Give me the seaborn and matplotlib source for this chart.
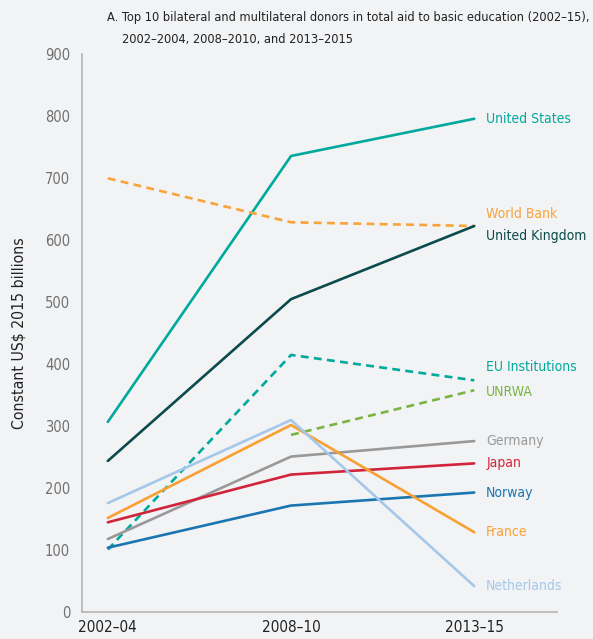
import matplotlib
matplotlib.use('Agg')
import matplotlib.pyplot as plt
import numpy as np
import pandas as pd
import seaborn as sns

periods = ['2002–04', '2008–10', '2013–15']

donors = ['United States', 'World Bank', 'United Kingdom', 'EU Institutions', 'UNRWA',
          'Germany', 'Japan', 'Norway', 'France', 'Netherlands']

united_states = [307, 736, 796]
world_bank = [700, 629, 623]
united_kingdom = [244, 505, 623]
eu_institutions = [101, 415, 374]
unrwa = [np.nan, 286, 358]
germany = [118, 251, 276]
japan = [145, 222, 240]
norway = [104, 172, 193]
france = [152, 302, 129]
netherlands = [176, 310, 42]

colors = {
    'United States': '#00a99d',
    'World Bank': '#f9a33b',
    'United Kingdom': '#0b4b4b',
    'EU Institutions': '#00a99d',
    'UNRWA': '#7ab441',
    'Germany': '#999999',
    'Japan': '#d1243a',
    'Norway': '#1b75b0',
    'France': '#f9a033',
    'Netherlands': '#a5c8ea',
}
dashed = {'World Bank', 'EU Institutions', 'UNRWA'}
# label nudges so names don't collide (data units)
nudge = {'World Bank': 20, 'United Kingdom': -16, 'EU Institutions': 22, 'UNRWA': -2}

values = [united_states, world_bank, united_kingdom, eu_institutions, unrwa,
          germany, japan, norway, france, netherlands]
df = pd.DataFrame([
    {'donor': d, 'x': i, 'value': v}
    for d, vals in zip(donors, values)
    for i, v in enumerate(vals)
]).dropna()

sns.set_style('white')
plt.rcParams['font.family'] = ['DejaVu Sans']
plt.rcParams['font.stretch'] = 'condensed'

bg = '#f2f3f5'
fig = plt.figure(figsize=(5.93, 6.39), dpi=100, facecolor=bg)
ax = fig.add_axes([0.138, 0.042, 0.802, 0.873])
ax.set_facecolor(bg)

dashes = {d: ((3, 2) if d in dashed else '') for d in donors}
sns.lineplot(data=df, x='x', y='value', hue='donor', style='donor', hue_order=donors,
             style_order=donors, palette=colors, dashes=dashes, sort=False,
             linewidth=1.9, legend=False, ax=ax)

for d, vals in zip(donors, values):
    ax.text(2.065, vals[-1] + nudge.get(d, 0), d, color=colors[d], fontsize=10,
            va='center', ha='left', fontstretch='condensed')

ax.set_xlim(-0.142, 2.454)
ax.set_ylim(0, 900)
ax.set_xticks(range(len(periods)))
ax.set_xticklabels(periods, fontsize=11, color='#222222')
ax.set_yticks(range(0, 1000, 100))
ax.tick_params(axis='y', labelsize=10.5, labelcolor='#707070', length=5, color='#aaaaaa', width=1)
ax.tick_params(axis='x', length=0, pad=6)
ax.set_xlabel('')
ax.set_ylabel('Constant US$ 2015 billions', fontsize=11.3, color='#222222', labelpad=13)

for s in ['top', 'right']:
    ax.spines[s].set_visible(False)
for s in ['left', 'bottom']:
    ax.spines[s].set_color('#b5b5b5')
    ax.spines[s].set_linewidth(1.2)

fig.text(0.180, 0.972, 'A. Top 10 bilateral and multilateral donors in total aid to basic education (2002–15),',
         fontsize=9.2, color='#222222', va='center', fontstretch='condensed')
fig.text(0.205, 0.938, '2002–2004, 2008–2010, and 2013–2015', fontsize=9.2, color='#222222',
         va='center', fontstretch='condensed')

fig.savefig('out.png', dpi=100, facecolor=bg)
